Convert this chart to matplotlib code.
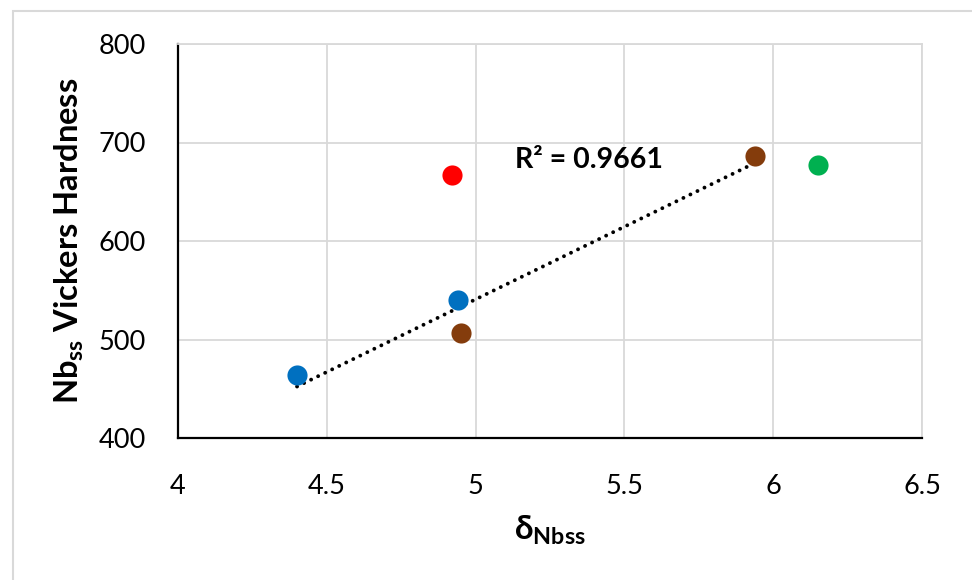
import matplotlib
matplotlib.use("Agg")
import matplotlib.pyplot as plt
import numpy as np
from matplotlib.patches import Rectangle

# data
delta_vals = [4.40, 4.94, 4.95, 4.92, 5.94, 6.15]
hardness   = [464, 540, 507, 667, 686, 677]
colors     = ["#0070C0", "#0070C0", "#843C0C", "#FF0000", "#843C0C", "#00B050"]
fit_idx    = [0, 1, 2, 4]          # blue + brown points used for the trendline
r2_label   = "R² = 0.9661"

xticks = [4, 4.5, 5, 5.5, 6, 6.5]
xtick_labels = ["4", "4.5", "5", "5.5", "6", "6.5"]
yticks = [400, 500, 600, 700, 800]

plt.rcParams["font.family"] = ["Lato", "DejaVu Sans"]
plt.rcParams["mathtext.fontset"] = "custom"
plt.rcParams["mathtext.rm"] = "Lato"
plt.rcParams["mathtext.bf"] = "Lato:bold"
plt.rcParams["mathtext.fallback"] = "stixsans"


def main():
    fig = plt.figure(figsize=(9.72, 5.8), dpi=100)
    fig.patch.set_facecolor("white")
    # light outer chart frame (only top/left visible in the crop)
    fig.add_artist(Rectangle((12.5 / 972, -0.1), 1.2, 1 - 10.5 / 580 + 0.1,
                             transform=fig.transFigure, fill=False,
                             edgecolor="#d9d9d9", lw=1.5))

    ax = fig.add_axes([178 / 972, 1 - 438 / 580, (922 - 178) / 972, (438 - 44) / 580])

    # linear trendline through the blue/brown points
    fx = np.array([delta_vals[i] for i in fit_idx])
    fy = np.array([hardness[i] for i in fit_idx])
    slope, icpt = np.polyfit(fx, fy, 1)
    xs = np.array([fx.min(), fx.max()])
    ax.plot(xs, slope * xs + icpt, color="black", lw=2.8,
            linestyle=(0, (0.01, 2.0)), dash_capstyle="round", zorder=2)

    for x, y, c in zip(delta_vals, hardness, colors):
        ax.plot(x, y, "o", color=c, markersize=14.5, markeredgewidth=0, zorder=3)

    ax.text(5.132, 682, r2_label, fontsize=20.5, fontweight="bold",
            ha="left", va="center", zorder=4)

    ax.set_xlim(4, 6.5)
    ax.set_ylim(400, 800)
    ax.set_xticks(xticks)
    ax.set_xticklabels(xtick_labels)
    ax.set_yticks(yticks)
    ax.tick_params(axis="both", length=0, labelsize=19.5)
    ax.tick_params(axis="x", pad=26)
    ax.tick_params(axis="y", pad=23)

    ax.grid(True, color="#d9d9d9", lw=1.3)
    ax.set_axisbelow(True)
    for s in ["top", "right"]:
        ax.spines[s].set_color("#d9d9d9")
        ax.spines[s].set_linewidth(1.3)
    for s in ["left", "bottom"]:
        ax.spines[s].set_color("black")
        ax.spines[s].set_linewidth(1.6)

    ax.set_ylabel(r"$\mathbf{Nb_{ss}}$ Vickers Hardness", fontsize=23.5,
                  fontweight="bold", labelpad=9)
    ax.set_xlabel(r"$\mathbf{\delta_{Nbss}}$", fontsize=24, fontweight="bold",
                  labelpad=11)

    fig.savefig("out.png", dpi=100)


if __name__ == "__main__":
    main()
